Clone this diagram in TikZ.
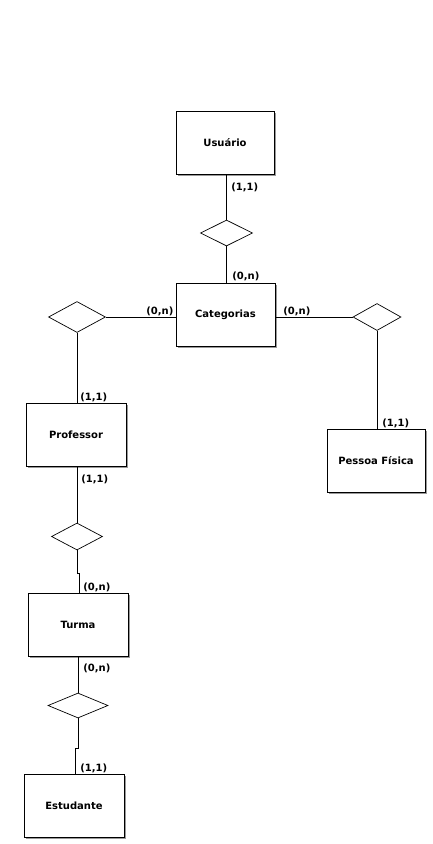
\documentclass[tikz,border=0pt]{standalone}
\usepackage{fontspec}
\setmainfont{DejaVu Sans}
\usetikzlibrary{shapes.geometric,shadows}
\begin{document}
\begin{tikzpicture}[x=1pt,y=-1pt,
  line width=0.7pt,
  entity/.style={draw, fill=white, minimum width=98pt, minimum height=63pt, inner sep=0pt,
    font=\bfseries\fontsize{10}{12}\selectfont,
    drop shadow={shadow xshift=1.6pt, shadow yshift=-1.6pt, fill=black!40, opacity=1}},
  rel/.style={draw, diamond, fill=white, inner sep=0pt},
  lab/.style={anchor=west, inner sep=0pt, font=\bfseries\fontsize{10}{12}\selectfont}]
\useasboundingbox[fill=white] (0,0) rectangle (433,844);

% entities
\node[entity] (usu) at (225,143) {Usuário};
\node[entity, minimum width=99pt] (cat) at (225.5,314.5) {Categorias};
\node[entity, minimum width=100pt] (prof) at (76,434.5) {Professor};
\node[entity] (pf) at (376,460.5) {Pessoa Física};
\node[entity, minimum width=100pt] (turma) at (78,624.5) {Turma};
\node[entity, minimum width=100pt] (est) at (74,805.5) {Estudante};

% relationships
\node[rel, minimum width=52pt, minimum height=26pt] (r1) at (226.5,233) {};
\node[rel, minimum width=57pt, minimum height=31pt] (r2) at (77,317) {};
\node[rel, minimum width=48pt, minimum height=27pt] (r3) at (377,317) {};
\node[rel, minimum width=51pt, minimum height=27pt] (r4) at (77,536.5) {};
\node[rel, minimum width=60pt, minimum height=25pt] (r5) at (78,705.5) {};

% connectors
\draw (r1.north) -- (usu.south -| r1.north);
\draw (r1.south) -- (cat.north -| r1.south);
\draw (r2.east) -- (cat.west |- r2.east);
\draw (r2.south) -- (prof.north -| r2.south);
\draw (r3.west) -- (cat.east |- r3.west);
\draw (r3.south) -- (pf.north -| r3.south);
\draw (r4.north) -- (prof.south -| r4.north);
\coordinate (j1) at (79,573);
\draw (r4.south) |- (j1) -- (j1 |- turma.north);
\draw (r5.north) -- (turma.south -| r5.north);
\coordinate (j2) at (75,748);
\draw (r5.south) |- (j2) -- (j2 |- est.north);

% cardinalities
\node[lab] (l1) at (231,187) {(1,1)};
\node[lab] (l2) at (232,276) {(0,n)};
\node[lab] (l3) at (146,311) {(0,n)};
\node[lab] (l4) at (283,311) {(0,n)};
\node[lab] (l5) at (80,397) {(1,1)};
\node[lab] (l6) at (382,423) {(1,1)};
\node[lab] (l7) at (81,479) {(1,1)};
\node[lab] (l8) at (83,587) {(0,n)};
\node[lab] (l9) at (83,668) {(0,n)};
\node[lab] (l10) at (80,768) {(1,1)};
\end{tikzpicture}
\end{document}
